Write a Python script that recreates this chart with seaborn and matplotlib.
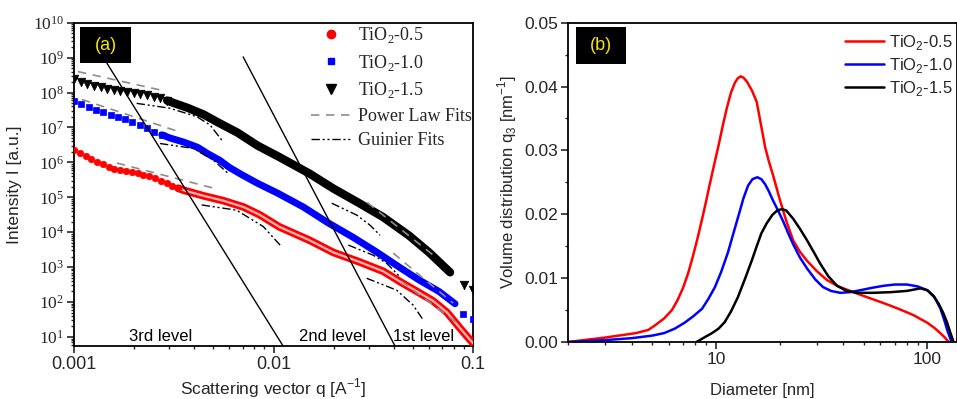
import numpy as np
import pandas as pd
import matplotlib
matplotlib.use("Agg")
import matplotlib.pyplot as plt
import seaborn as sns
from matplotlib.lines import Line2D
from matplotlib.patches import Rectangle
from matplotlib.ticker import (FixedLocator, LogLocator, FuncFormatter,
                               MultipleLocator, NullFormatter, FixedFormatter)

# ---------------- data: panel (a) SAXS curves (log10 q [1/A], log10 I) ----------------
series_names = ["TiO$_\\mathdefault{2}$-0.5", "TiO$_\\mathdefault{2}$-1.0", "TiO$_\\mathdefault{2}$-1.5"]

# TiO2-1.5 (black triangles)
b15_sparse_logq = [-3.000, -2.967, -2.933, -2.900, -2.867, -2.833, -2.800, -2.767, -2.733,
                   -2.700, -2.667, -2.633, -2.600, -2.567, -2.533]
b15_sparse_logI = [8.38, 8.30, 8.24, 8.19, 8.15, 8.11, 8.08, 8.05, 8.02, 7.99, 7.96, 7.92,
                   7.88, 7.83, 7.77]
b15_dense_logq = [-2.533, -2.50, -2.43, -2.35, -2.28, -2.18, -2.08, -1.97, -1.82, -1.70, -1.57,
                  -1.45, -1.32, -1.22, -1.115]
b15_dense_logI = [7.77, 7.70, 7.56, 7.37, 7.15, 6.85, 6.48, 6.15, 5.68, 5.25, 4.83, 4.43,
                  3.90, 3.42, 2.85]
b15_tail_logq = [-1.045, -1.000]
b15_tail_logI = [2.48, 2.33]

# TiO2-1.0 (blue squares)
b10_sparse_logq = [-3.000, -2.963, -2.927, -2.890, -2.853, -2.817, -2.780, -2.743, -2.707,
                   -2.670, -2.633, -2.597, -2.560]
b10_sparse_logI = [7.76, 7.66, 7.58, 7.51, 7.44, 7.37, 7.30, 7.23, 7.15, 7.06, 6.97, 6.88, 6.79]
b10_dense_logq = [-2.560, -2.52, -2.45, -2.38, -2.33, -2.27, -2.22, -2.16, -2.08, -1.98, -1.85,
                  -1.73, -1.60, -1.48, -1.37, -1.27, -1.17, -1.09]
b10_dense_logI = [6.79, 6.70, 6.58, 6.43, 6.25, 6.06, 5.85, 5.65, 5.40, 5.12, 4.72, 4.28,
                  3.85, 3.42, 3.00, 2.63, 2.30, 1.95]
b10_tail_logq = [-1.050, -1.002]
b10_tail_logI = [1.66, 1.51]

# TiO2-0.5 (red circles)
b05_sparse_logq = [-3.000, -2.971, -2.942, -2.913, -2.884, -2.855, -2.826, -2.797, -2.768,
                   -2.739, -2.710, -2.681, -2.652, -2.623, -2.594, -2.565, -2.536, -2.507, -2.478]
b05_sparse_logI = [6.36, 6.27, 6.18, 6.09, 6.01, 5.94, 5.88, 5.82, 5.78, 5.75, 5.72, 5.69,
                   5.65, 5.60, 5.54, 5.47, 5.40, 5.33, 5.26]
b05_dense_logq = [-2.478, -2.45, -2.35, -2.25, -2.15, -2.07, -1.97, -1.82, -1.70, -1.57, -1.45,
                  -1.365, -1.28, -1.20, -1.13, -1.065, -1.0]
b05_dense_logI = [5.26, 5.20, 5.04, 4.90, 4.72, 4.50, 4.15, 3.77, 3.42, 3.15, 2.88, 2.58,
                  2.30, 2.03, 1.70, 1.25, 0.82]

# power-law fits (gray dashed)
pl_fits_logq = [[-2.98, -2.55], [-1.53, -1.19], [-2.96, -2.47], [-1.40, -1.10],
                [-2.785, -2.30], [-1.36, -1.08]]
pl_fits_logI = [[8.60, 8.05], [4.85, 3.30], [7.80, 6.87], [3.40, 1.97],
                [5.98, 5.26], [2.60, 1.40]]

# Guinier fits (dash-dot)
gu_fits_logq = [[-2.686, -2.519, -2.385, -2.318, -2.253],
                [-1.708, -1.583, -1.516, -1.466],
                [-2.569, -2.402, -2.302, -2.227],
                [-1.625, -1.500, -1.433, -1.366],
                [-2.360, -2.185, -2.051, -1.967],
                [-1.533, -1.383, -1.300, -1.249]]
gu_fits_logI = [[7.69, 7.55, 7.31, 7.07, 6.59],
                [4.83, 4.49, 4.20, 3.91],
                [6.54, 6.40, 6.07, 5.68],
                [3.63, 3.34, 3.11, 2.72],
                [4.78, 4.63, 4.16, 3.63],
                [2.68, 2.34, 1.91, 1.48]]

# level boundary lines
level_logq = [[-2.835, -1.952], [-2.152, -1.391]]
level_logI = [[8.84, 0.74], [9.02, 0.74]]
level_labels = ["3rd level", "2nd level", "1st level"]
level_label_logq = [-2.565, -1.702, -1.250]

# ---------------- data: panel (b) volume distributions ----------------
d05 = [2.0, 3.0, 4.2, 4.8, 5.2, 5.7, 6.2, 6.6, 7.0, 7.4, 7.8, 8.2, 8.6, 9.0, 9.4, 9.85, 10.3,
       10.8, 11.3, 11.8, 12.3, 12.7, 13.1, 13.5, 14.0, 14.8, 15.6, 16.3, 17.1, 17.8, 18.6, 20.1,
       21.5, 23.2, 25.0, 27.0, 30.0, 33.5, 38.0, 44.7, 52, 62, 73, 86, 100, 108, 115, 121, 126]
v05 = [0, 0.0007, 0.0014, 0.0019, 0.0027, 0.0037, 0.0050, 0.0066, 0.0085, 0.0108, 0.0135,
       0.0163, 0.0192, 0.0221, 0.0250, 0.0280, 0.0308, 0.0340, 0.0368, 0.0391, 0.0406, 0.0413,
       0.0416, 0.0414, 0.0408, 0.0394, 0.0376, 0.0342, 0.0305, 0.0283, 0.0262, 0.0222, 0.0190,
       0.0159, 0.0141, 0.0127, 0.0111, 0.0097, 0.0087, 0.0078, 0.0070, 0.0061, 0.0052, 0.0042,
       0.0030, 0.0022, 0.0014, 0.0007, 0.0]
d10 = [2.0, 3.0, 4.0, 5.0, 5.7, 6.4, 7.1, 7.8, 8.6, 9.2, 9.9, 10.6, 11.4, 12.1, 12.8, 13.5,
       14.2, 14.9, 15.7, 16.4, 17.1, 17.8, 18.6, 19.6, 20.8, 22.0, 23.2, 25.0, 27.0, 29.5, 32.1,
       35.0, 38.7, 43, 48, 55, 62, 70, 80, 90, 100, 108, 115, 120, 124, 130]
v10 = [0, 0.0003, 0.0006, 0.0010, 0.0014, 0.0021, 0.0030, 0.0040, 0.0052, 0.0067, 0.0086,
       0.0110, 0.0140, 0.0170, 0.0198, 0.0225, 0.0245, 0.0255, 0.0258, 0.0255, 0.0247, 0.0236,
       0.0222, 0.0207, 0.0189, 0.0170, 0.0153, 0.0132, 0.0115, 0.0098, 0.0086, 0.0080, 0.0077,
       0.0078, 0.0081, 0.0085, 0.0088, 0.0090, 0.0090, 0.0087, 0.0081, 0.0070, 0.0053, 0.0035,
       0.0019, 0]
d15 = [8.1, 8.8, 9.6, 10.3, 11.0, 11.8, 12.7, 13.7, 14.8, 15.6, 16.4, 17.4, 18.5, 19.5, 20.5,
       21.5, 23.2, 25.0, 27.0, 29.0, 31.1, 34.0, 37.4, 41.5, 46.6, 55, 66.8, 80, 92.7, 100, 107,
       113, 119, 124, 128.5, 133]
v15 = [0, 0.0007, 0.0014, 0.0021, 0.0031, 0.0048, 0.0070, 0.0098, 0.0128, 0.0150, 0.0170,
       0.0186, 0.0199, 0.0206, 0.0208, 0.0206, 0.0193, 0.0177, 0.0159, 0.0141, 0.0123, 0.0103,
       0.0088, 0.0080, 0.0077, 0.0077, 0.0078, 0.0080, 0.0084, 0.0081, 0.0072, 0.0060, 0.0045,
       0.0030, 0.0014, 0]

x_ticks_a = [0.001, 0.01, 0.1]
x_ticklabels_a = ["0.001", "0.01", "0.1"]

# ---------------- style ----------------
sns.set_theme(style="ticks")
plt.rcParams["font.family"] = ["Liberation Sans", "DejaVu Sans"]
plt.rcParams["axes.linewidth"] = 1.3
plt.rcParams["axes.edgecolor"] = "black"

fig = plt.figure(figsize=(9.57, 3.99), dpi=100)
axA = fig.add_axes([74 / 957, 1 - 346 / 399, (473 - 74) / 957, (346 - 22.7) / 399])
axB = fig.add_axes([568 / 957, 1 - 342 / 399, (957 - 568) / 957, (342 - 22.7) / 399])

RED, BLUE, BLACK = "#ff0000", "#0000ff", "#000000"

def pw(a):
    return 10 ** np.asarray(a, dtype=float)

# ---------------- panel (a) ----------------
axA.set_xscale("log")
axA.set_yscale("log")

sns.lineplot(x=pw(b15_dense_logq), y=pw(b15_dense_logI), ax=axA, color=BLACK, lw=6.0,
             estimator=None, sort=False, legend=False, zorder=3)
sns.lineplot(x=pw(b10_dense_logq), y=pw(b10_dense_logI), ax=axA, color=BLUE, lw=5.0,
             estimator=None, sort=False, legend=False, zorder=3)
sns.lineplot(x=pw(b05_dense_logq), y=pw(b05_dense_logI), ax=axA, color=RED, lw=5.5,
             estimator=None, sort=False, legend=False, zorder=3)
sns.lineplot(x=pw(b05_dense_logq), y=pw(b05_dense_logI), ax=axA, color="#ffb4b4", lw=1.6,
             estimator=None, sort=False, legend=False, zorder=3.5)

sns.scatterplot(x=pw(b15_sparse_logq + b15_tail_logq), y=pw(b15_sparse_logI + b15_tail_logI),
                ax=axA, color=BLACK, marker="v", s=38, edgecolor=BLACK, linewidth=0.5,
                legend=False, zorder=4)
sns.scatterplot(x=pw(b10_sparse_logq + b10_tail_logq), y=pw(b10_sparse_logI + b10_tail_logI),
                ax=axA, color=BLUE, marker="s", s=22, edgecolor=BLUE, linewidth=0.5,
                legend=False, zorder=4)
sns.scatterplot(x=pw(b05_sparse_logq), y=pw(b05_sparse_logI), ax=axA, color=RED, marker="o",
                s=22, edgecolor=RED, linewidth=0.5, legend=False, zorder=4)

for lq, li in zip(pl_fits_logq, pl_fits_logI):
    sns.lineplot(x=pw(lq), y=pw(li), ax=axA, color="#8c8c8c", lw=1.2, estimator=None,
                 sort=False, legend=False, zorder=5).lines[-1].set_dashes([5, 4])
for lq, li in zip(gu_fits_logq, gu_fits_logI):
    sns.lineplot(x=pw(lq), y=pw(li), ax=axA, color=BLACK, lw=1.0, estimator=None,
                 sort=False, legend=False, zorder=5).lines[-1].set_dashes([6, 2, 1.5, 2, 1.5, 2])
for lq, li in zip(level_logq, level_logI):
    sns.lineplot(x=pw(lq), y=pw(li), ax=axA, color=BLACK, lw=1.0, estimator=None,
                 sort=False, legend=False, zorder=5)

for lab, lq in zip(level_labels, level_label_logq):
    axA.text(10 ** lq, 0.006, lab, transform=axA.get_xaxis_transform(), ha="center",
             va="bottom", fontsize=12, color="black", zorder=6)

axA.set_xlim(1e-3, 1e-1)
axA.set_ylim(10 ** 0.74, 1e10)
axA.xaxis.set_major_locator(FixedLocator(x_ticks_a))
axA.xaxis.set_major_formatter(FixedFormatter(x_ticklabels_a))
axA.xaxis.set_minor_locator(LogLocator(base=10, subs=np.arange(2, 10), numticks=50))
axA.xaxis.set_minor_formatter(NullFormatter())
axA.yaxis.set_major_locator(FixedLocator([10.0 ** k for k in range(1, 11)]))
axA.yaxis.set_major_formatter(FuncFormatter(
    lambda v, p: r"$\mathdefault{10^{%d}}$" % int(round(np.log10(v)))))
axA.yaxis.set_minor_locator(LogLocator(base=10, subs=np.arange(2, 10), numticks=50))
axA.yaxis.set_minor_formatter(NullFormatter())
axA.tick_params(axis="both", which="major", direction="out", length=5, width=1.2,
                labelsize=13, pad=2, top=False, right=False)
axA.tick_params(axis="both", which="minor", direction="out", length=2.5, width=1.0,
                top=False, right=False)
axA.tick_params(axis="y", which="major", labelfontfamily="Liberation Serif", labelsize=12.5)
for s in axA.spines.values():
    s.set_visible(True)
    s.set_linewidth(1.3)
axA.set_xlabel(r"Scattering vector q [A$^{\mathdefault{-1}}$]", fontsize=12.5, labelpad=3)
axA.set_ylabel("Intensity I [a.u.]", fontsize=12.5, labelpad=8)

handlesA = [
    Line2D([], [], ls="none", marker="o", color=RED, markersize=6),
    Line2D([], [], ls="none", marker="s", color=BLUE, markersize=5),
    Line2D([], [], ls="none", marker="v", color=BLACK, markersize=7),
    Line2D([], [], ls=(0, (5, 4)), color="#8c8c8c", lw=1.2),
    Line2D([], [], ls=(0, (6, 2, 1.5, 2, 1.5, 2)), color=BLACK, lw=1.0),
]
labelsA = series_names + ["Power Law Fits", "Guinier Fits"]
axA.legend(handlesA, labelsA, loc="upper left", bbox_to_anchor=(0.59, 0.998),
           frameon=False, handlelength=2.2, handletextpad=0.4, labelspacing=0.42,
           borderpad=0.1, borderaxespad=0, numpoints=1,
           prop={"family": "Liberation Serif", "size": 13})

# ---------------- panel (b) ----------------
axB.set_xscale("log")
for d, v, c in [(d05, v05, RED), (d10, v10, BLUE), (d15, v15, BLACK)]:
    df = pd.DataFrame({"Diameter": d, "q3": v})
    sns.lineplot(data=df, x="Diameter", y="q3", ax=axB, color=c, lw=1.8, estimator=None,
                 sort=False, legend=False)
axB.set_xlim(2.0, 138)
axB.set_ylim(0, 0.05)
axB.xaxis.set_major_locator(FixedLocator([10, 100]))
axB.xaxis.set_major_formatter(FixedFormatter(["10", "100"]))
axB.xaxis.set_minor_locator(LogLocator(base=10, subs=np.arange(2, 10), numticks=50))
axB.xaxis.set_minor_formatter(NullFormatter())
axB.yaxis.set_major_locator(MultipleLocator(0.01))
axB.yaxis.set_minor_locator(MultipleLocator(0.005))
axB.yaxis.set_major_formatter(FuncFormatter(lambda v, p: "%.2f" % v))
axB.tick_params(axis="both", which="major", direction="out", length=5, width=1.2,
                labelsize=12.5, pad=2, top=False, right=False)
axB.tick_params(axis="both", which="minor", direction="out", length=2.5, width=1.0,
                top=False, right=False)
for s in axB.spines.values():
    s.set_visible(True)
    s.set_linewidth(1.3)
axB.set_xlabel("Diameter [nm]", fontsize=12, labelpad=12)
axB.set_ylabel(r"Volume distribution q$_{\mathdefault{3}}$ [nm$^{\mathdefault{-1}}$]",
               fontsize=12, labelpad=4)

handlesB = [Line2D([], [], color=c, lw=1.8) for c in (RED, BLUE, BLACK)]
axB.legend(handlesB, series_names, loc="upper left", bbox_to_anchor=(0.70, 0.984),
           frameon=False, handlelength=2.3, handletextpad=0.3, labelspacing=0.25,
           borderpad=0.3, borderaxespad=0, prop={"size": 12})

# ---------------- panel tags ----------------
for (x0, y0, w, h, t) in [(80, 27, 51, 36, "(a)"), (576, 27, 50, 37, "(b)")]:
    fig.patches.append(Rectangle((x0 / 957, 1 - (y0 + h) / 399), w / 957, h / 399,
                                 transform=fig.transFigure, facecolor="black",
                                 edgecolor="none", zorder=10))
    fig.text((x0 + w / 2) / 957, 1 - (y0 + h / 2) / 399, t, color="#f5e600", fontsize=13,
             ha="center", va="center", zorder=11)

fig.savefig("out.png", dpi=100)
